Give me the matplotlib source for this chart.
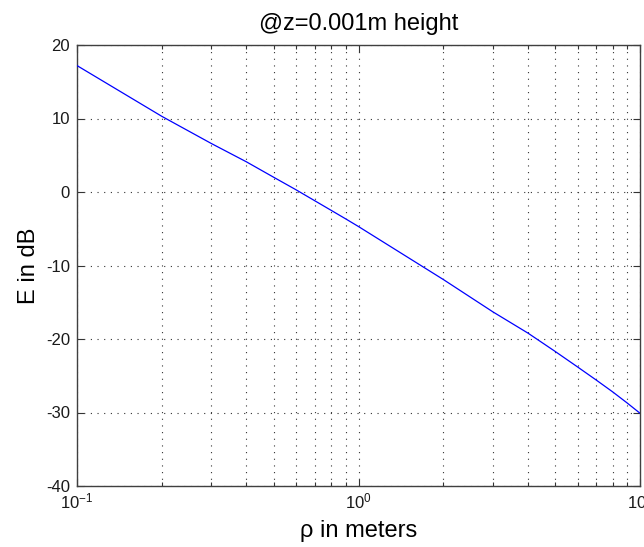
import matplotlib
matplotlib.use("Agg")
import matplotlib.pyplot as plt
from matplotlib.ticker import LogLocator, FixedLocator, NullFormatter

plt.rcParams["font.family"] = ["Liberation Sans", "DejaVu Sans"]
plt.rcParams["mathtext.fontset"] = "custom"
plt.rcParams["mathtext.rm"] = "Liberation Sans"
plt.rcParams["mathtext.it"] = "Liberation Sans:italic"
plt.rcParams["mathtext.default"] = "regular"
plt.rcParams["axes.unicode_minus"] = False

# Field strength versus horizontal distance
rho = [0.1, 0.2, 0.3, 0.4, 0.5, 0.6, 0.7, 0.8, 0.9, 1.0,
       2.0, 3.0, 4.0, 5.0, 6.0, 7.0, 8.0, 9.0, 10.0]
e_db = [17.2, 10.3, 6.6, 4.1, 2.0, 0.3, -1.2, -2.5, -3.65, -4.7,
        -11.9, -16.3, -19.2, -21.7, -23.8, -25.6, -27.2, -28.7, -30.1]

y_ticks = [-40, -30, -20, -10, 0, 10, 20]
title_text = "@z=0.001m height"
x_label = "\u03c1 in meters"
y_label = "E in dB"

fig = plt.figure(figsize=(6.44, 5.47), dpi=100)
ax = fig.add_axes([77 / 644, 61 / 547, 563 / 644, 441 / 547])

ax.semilogx(rho, e_db, color=(0, 0, 1), lw=0.9, zorder=3)

ax.set_xlim(0.1, 10)
ax.set_ylim(-40, 20)
ax.yaxis.set_major_locator(FixedLocator(y_ticks))
ax.xaxis.set_major_locator(LogLocator(base=10, numticks=10))
ax.xaxis.set_minor_locator(LogLocator(base=10, subs=range(2, 10), numticks=20))
ax.xaxis.set_minor_formatter(NullFormatter())

grid_kw = dict(color="0.2", linestyle=(0, (1, 5)), linewidth=0.8)
ax.grid(True, which="major", axis="both", **grid_kw)
ax.grid(True, which="minor", axis="x", **grid_kw)

ax.tick_params(which="both", direction="in", top=True, right=True,
               color="0.2", labelsize=12, labelcolor="0.1")
ax.tick_params(which="major", length=5, width=0.8)
ax.tick_params(which="minor", length=3, width=0.8)
ax.tick_params(axis="y", pad=5)
ax.tick_params(axis="x", pad=4)

for sp in ax.spines.values():
    sp.set_color("0.25")
    sp.set_linewidth(1.0)

ax.set_title(title_text, fontsize=17, pad=11)
ax.set_xlabel(x_label, fontsize=17, labelpad=6)
ax.set_ylabel(y_label, fontsize=17, labelpad=4)

fig.savefig("out.png", dpi=100, facecolor="white")
